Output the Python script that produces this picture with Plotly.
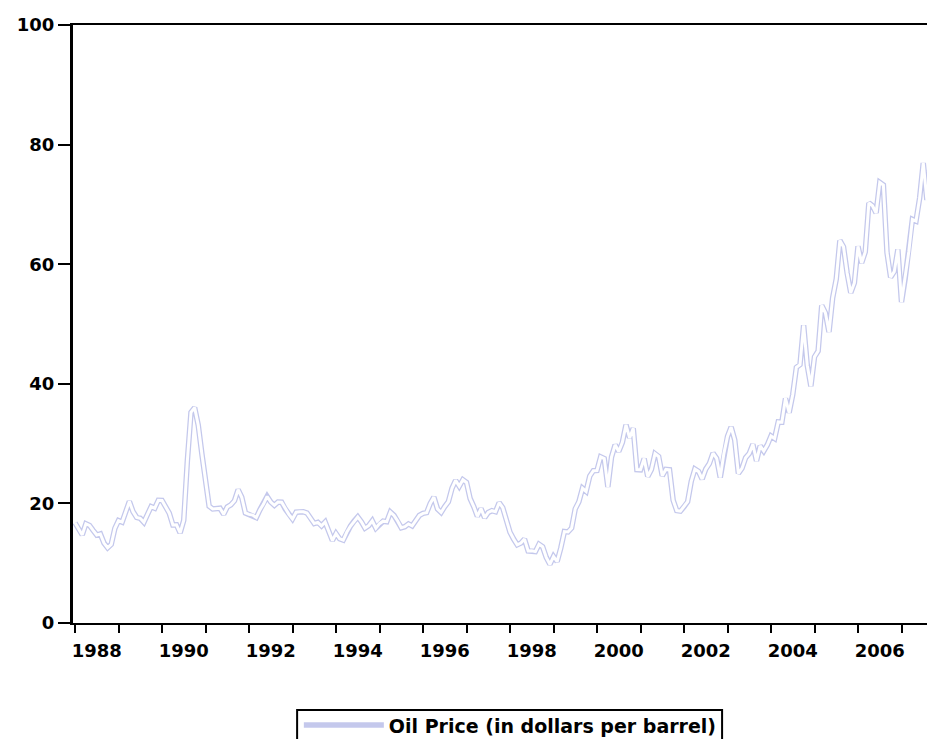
import plotly.graph_objects as go

# Monthly oil price (dollars per barrel), Jan 1988 onwards
start_year = 1988
p1988 = [16.75, 15.73, 14.73, 16.60, 16.31, 15.49, 14.71, 14.89, 13.37, 12.58, 13.15, 15.84]
p1989 = [17.12, 16.88, 18.70, 20.32, 18.63, 17.67, 17.51, 16.85, 18.18, 19.45, 19.19, 20.53]
p1990 = [20.50, 19.42, 18.37, 16.39, 16.42, 15.06, 17.17, 27.17, 35.25, 36.02, 33.07, 28.27]
p1991 = [23.57, 19.54, 19.08, 19.18, 19.19, 18.17, 19.40, 19.77, 20.45, 22.30, 21.03, 18.41]
p1992 = [18.16, 18.05, 17.63, 18.92, 19.89, 21.16, 20.23, 19.68, 20.22, 20.21, 19.07, 18.17]
p1993 = [17.40, 18.53, 18.61, 18.60, 18.39, 17.53, 16.64, 16.83, 16.26, 16.89, 15.26, 13.79]
p1994 = [14.97, 14.09, 13.86, 15.21, 16.22, 17.04, 17.73, 16.92, 15.88, 16.27, 17.08, 15.85]
p1995 = [16.61, 17.03, 16.94, 18.55, 18.00, 17.07, 15.94, 16.11, 16.57, 16.25, 17.02, 17.99]
p1996 = [18.34, 18.45, 19.99, 21.05, 19.08, 18.49, 19.47, 20.28, 22.53, 23.85, 22.86, 23.95]
p1997 = [23.50, 20.82, 19.48, 17.84, 19.14, 17.62, 18.49, 18.78, 18.60, 20.11, 19.28, 17.36]
p1998 = [15.19, 14.04, 13.08, 13.37, 14.03, 12.06, 12.09, 11.94, 13.17, 12.74, 10.98, 9.82]
p1999 = [11.12, 10.26, 12.52, 15.29, 15.22, 15.89, 19.09, 20.27, 22.53, 22.00, 24.57, 25.48]
p2000 = [25.51, 27.78, 27.49, 22.76, 27.74, 29.80, 28.68, 30.20, 33.14, 30.96, 32.55, 25.66]
p2001 = [25.62, 27.50, 24.50, 25.66, 28.31, 27.85, 24.61, 25.68, 25.62, 20.54, 18.80, 18.71]
p2002 = [19.42, 20.28, 23.70, 25.73, 25.35, 24.08, 25.74, 26.65, 28.40, 27.54, 24.34, 28.33]
p2003 = [31.18, 32.77, 30.61, 25.00, 25.86, 27.65, 28.35, 29.89, 27.11, 29.61, 28.75, 29.81]
p2004 = [31.28, 30.86, 33.63, 33.59, 37.57, 35.18, 38.22, 42.74, 43.20, 49.78, 43.11, 39.60]
p2005 = [44.51, 45.48, 53.10, 51.88, 48.65, 54.35, 57.52, 63.98, 62.91, 58.54, 55.24, 56.86]
p2006 = [62.99, 60.21, 62.06, 70.26, 69.78, 68.56, 73.67, 73.23, 61.96, 57.81, 58.76, 62.47]
p2007 = [53.68, 57.56, 62.05, 67.49, 67.21, 71.05, 76.93, 70.76, 77.17, 82.34, 92.41]

prices = (p1988 + p1989 + p1990 + p1991 + p1992 + p1993 + p1994 + p1995 + p1996 +
          p1997 + p1998 + p1999 + p2000 + p2001 + p2002 + p2003 + p2004 + p2005 +
          p2006 + p2007)
months = [start_year + i / 12 for i in range(len(prices))]

tick_years = list(range(1988, 2008))
label_years = [1988, 1990, 1992, 1994, 1996, 1998, 2000, 2002, 2004, 2006]
label_text = [str(y) for y in label_years]
y_ticks = [0, 20, 40, 60, 80, 100]
series_name = "Oil Price (in dollars per barrel)"

fig = go.Figure()
fig.add_trace(go.Scatter(x=months, y=prices, mode="lines", name=series_name,
                         line=dict(color="#c4c8ec", width=5.5), showlegend=True))
fig.add_trace(go.Scatter(x=months, y=prices, mode="lines", name=series_name,
                         line=dict(color="white", width=3), showlegend=False,
                         hoverinfo="skip"))

tick_font = dict(family="DejaVu Sans", size=18, color="black", weight="bold")

fig.update_layout(
    width=927, height=731,
    margin=dict(l=65, r=0, t=17, b=116, autoexpand=False),
    plot_bgcolor="white", paper_bgcolor="white",
    legend=dict(x=0.262, y=-0.171, xanchor="left", yanchor="middle",
                bgcolor="rgba(0,0,0,0)", orientation="h", itemwidth=80,
                font=dict(family="DejaVu Sans", size=19, color="black", weight="bold")),
    shapes=[dict(type="rect", xref="paper", yref="paper",
                 x0=0.26, x1=0.753, y0=-0.26, y1=-0.1455,
                 line=dict(color="black", width=2), fillcolor="rgba(0,0,0,0)")],
)
fig.update_xaxes(
    range=[1987.954, 2007.77], automargin=False,
    tickmode="array", tickvals=[y + 0.5 for y in label_years], ticktext=label_text,
    ticks="outside", ticklen=10, tickcolor="rgba(0,0,0,0)",
    tickfont=tick_font,
    showgrid=False, zeroline=False,
    showline=True, linecolor="black", linewidth=2, mirror=True,
    minor=dict(tickmode="array", tickvals=tick_years, ticks="outside",
               ticklen=8, tickwidth=2, tickcolor="black", showgrid=False),
)
fig.update_yaxes(
    range=[0, 100], automargin=False, tickmode="array", tickvals=y_ticks,
    ticks="outside", ticklen=12, tickwidth=2, tickcolor="black",
    tickfont=tick_font,
    showgrid=False, zeroline=False,
    showline=True, linecolor="black", linewidth=3,
)

fig.write_html("out.html")
